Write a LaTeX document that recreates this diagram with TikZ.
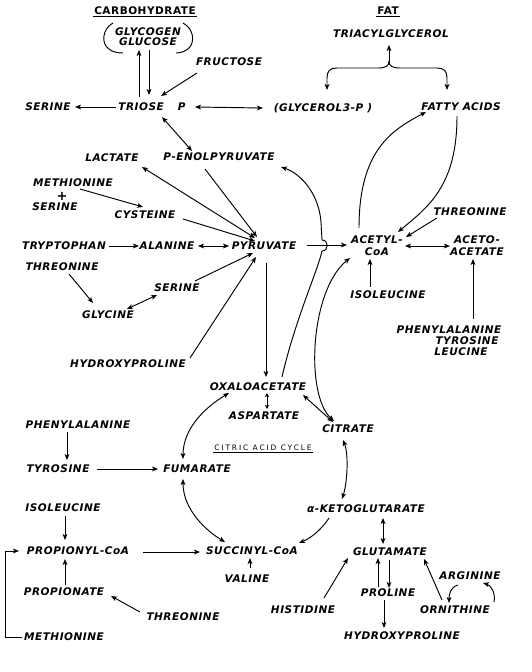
\documentclass[tikz,border=0pt]{standalone}
\usepackage{fontspec}
\setmainfont{DejaVu Sans}
\newfontfamily\labfont[LetterSpace=5]{DejaVu Sans}
\newfontfamily\cacfont[LetterSpace=25]{DejaVu Sans}
\usetikzlibrary{arrows.meta,calc}
\tikzset{
  lab/.style={font=\labfont\bfseries\itshape\fontsize{10.5}{12}\selectfont, inner sep=1pt, align=center},
  head/.style={font=\labfont\bfseries\fontsize{10.5}{12}\selectfont, inner sep=1pt},
  arr/.style={-{Stealth[length=6pt,width=4.8pt,inset=1.6pt]}, line width=0.95pt},
  darr/.style={{Stealth[length=6pt,width=4.8pt,inset=1.6pt]}-{Stealth[length=6pt,width=4.8pt,inset=1.6pt]}, line width=0.95pt},
  plain/.style={line width=0.95pt},
}
\begin{document}
\begin{tikzpicture}[x=1pt,y=-1pt]
\fill[white] (0,0) rectangle (532,672);
\useasboundingbox (0,0) rectangle (532,672);

% ---------- nodes ----------
\node[head] (carb) at (145,11) {CARBOHYDRATE};
\node[head] (fat) at (388,11) {FAT};
\node[lab] (glyc) at (148,37) {GLYCOGEN\\[-2pt]GLUCOSE};
\node[lab] (fruc) at (229,62) {FRUCTOSE};
\node[lab] (tri) at (152,107) {TRIOSE\hspace{14pt}P};
\node[lab] (ser1) at (48,107) {SERINE};
\node[lab] (g3p) at (323,108) {(GLYCEROL3-P )};
\node[lab] (tag) at (391,34) {TRIACYLGLYCEROL};
\node[lab] (fa) at (461,107) {FATTY ACIDS};
\node[lab] (lac) at (112,158) {LACTATE};
\node[lab] (pep) at (219,157) {P-ENOLPYRUVATE};
\node[lab] (met1) at (73,183) {METHIONINE};
\node[lab,font=\labfont\bfseries\fontsize{13}{13}\selectfont] (plus) at (62,196) {+};
\node[lab] (ser2) at (55,207) {SERINE};
\node[lab] (cys) at (145,215) {CYSTEINE};
\node[lab] (trp) at (64,246) {TRYPTOPHAN};
\node[lab] (ala) at (167,246) {ALANINE};
\node[lab] (pyr) at (264,246) {PYRUVATE};
\node[lab] (acoa) at (377,246) {ACETYL-\\CoA};
\node[lab] (aca) at (477,246) {ACETO-\\ACETATE};
\node[lab] (thr1) at (470,212) {THREONINE};
\node[lab] (thr2) at (62,267) {THREONINE};
\node[lab] (gly) at (108,315) {GLYCINE};
\node[lab] (ser3) at (177,288) {SERINE};
\node[lab] (hyp1) at (128,364) {HYDROXYPROLINE};
\node[lab] (ile1) at (388,295) {ISOLEUCINE};
\node[lab] (phe2) at (449,330) {PHENYLALANINE};
\node[lab] (tyr2) at (467,341) {TYROSINE};
\node[lab] (leu) at (461,352) {LEUCINE};
\node[lab] (oaa) at (258,387) {OXALOACETATE};
\node[lab] (asp) at (264,416) {ASPARTATE};
\node[lab] (cit) at (348,429) {CITRATE};
\node[font=\cacfont\fontsize{7.5}{8}\selectfont, inner sep=1pt] (cac) at (263,448) {CITRIC ACID CYCLE};
\node[lab] (phe1) at (78,425) {PHENYLALANINE};
\node[lab] (tyr1) at (58,469) {TYROSINE};
\node[lab] (fum) at (197,469) {FUMARATE};
\node[lab] (akg) at (366,509) {α-KETOGLUTARATE};
\node[lab] (ile2) at (63,508) {ISOLEUCINE};
\node[lab] (prop) at (78,551) {PROPIONYL-CoA};
\node[lab] (succ) at (252,551) {SUCCINYL-CoA};
\node[lab] (glu) at (390,552) {GLUTAMATE};
\node[lab] (val) at (247,579) {VALINE};
\node[lab] (pro) at (64,592) {PROPIONATE};
\node[lab] (thr3) at (183,617) {THREONINE};
\node[lab] (met2) at (64,637) {METHIONINE};
\node[lab] (his) at (303,610) {HISTIDINE};
\node[lab] (prl) at (388,593) {PROLINE};
\node[lab] (hyp2) at (402,636) {HYDROXYPROLINE};
\node[lab] (orn) at (455,610) {ORNITHINE};
\node[lab] (arg) at (470,576) {ARGININE};

% underlines
\draw[line width=0.7pt] (carb.south west) -- (carb.south east);
\draw[line width=0.7pt] (fat.south west) -- (fat.south east);
\draw[line width=0.5pt] ($(cac.south west)+(0,0.5)$) -- ($(cac.south east)+(0,0.5)$);

% brackets round glycogen / glucose
\draw[plain] (113,23) .. controls (102,29) and (101,44) .. (109,49) .. controls (112,52) and (118,53) .. (123,53);
\draw[plain] (183,23) .. controls (194,29) and (195,42) .. (189,48) .. controls (186,51) and (181,53) .. (176,53);

% ---------- connectors ----------
\draw[arr] ($(tri)+(-13,-10)$) -- ($(glyc)+(-9,13)$);
\draw[arr] ($(glyc)+(1,13)$) -- ($(tri)+(-3,-12)$);
\draw[arr] ($(fruc)+(-32,11)$) -- ($(tri)+(9,-11)$);
\draw[arr] ($(tri)+(-36,0)$) -- ($(ser1)+(27,0)$);
\draw[darr] ($(tri)+(43,0)$) -- ($(g3p)+(-60,0)$);
\draw[darr] ($(tri)+(10,10)$) -- ($(pep)+(-27,-6)$);

% triacylglycerol brace
\coordinate (bj) at (389,61);
\draw[arr] (bj) -- ($(tag)+(-2,11)$);
\draw[arr] (bj) .. controls (389,66) and (386,68) .. (378,68) -- (337,68) .. controls (330,68) and (327,71) .. (327,78) -- ($(g3p)+(4,-18)$);
\draw[arr] (bj) .. controls (389,66) and (392,68) .. (400,68) -- (437,68) .. controls (444,68) and (447,71) .. (447,78) -- ($(fa)+(-14,-17)$);

% fatty acids <-> acetyl-CoA
\draw[arr] ($(acoa)+(-18,-18)$) .. controls (359,150) and (392,130) .. ($(fa)+(-35,5)$);
\draw[arr] ($(fa)+(-4,9)$) .. controls (457,186) and (428,207) .. ($(acoa)+(21,-14)$);

\draw[arr] ($(thr1)+(-33,6)$) -- ($(acoa)+(29,-9)$);
\draw[arr] ($(pyr)+(43,-1)$) -- ($(acoa)+(-30,-1)$);
\draw[darr] ($(acoa)+(28,0)$) -- ($(aca)+(-27,0)$);
\draw[arr] ($(phe2)+(24,-11)$) -- ($(aca)+(-4,13)$);
\draw[arr] ($(ile1)+(-18,-8)$) -- ($(acoa)+(-7,13)$);

% oxaloacetate -> P-enolpyruvate (with hop over pyruvate arrow)
\draw[arr] ($(oaa)+(24,-10)$) .. controls (295,320) and (318,270) .. (322,251)
   .. controls (329,251) and (329,240) .. (322,240) -- (321,222)
   .. controls (319,195) and (302,174) .. ($(pep)+(62,10)$);

% acetyl-CoA <-> citrate
\draw[darr] ($(acoa)+(-27,12)$) .. controls (310,290) and (305,395) .. ($(cit)+(-14,-8)$);

% left-side inputs to pyruvate
\draw[darr] ($(lac)+(30,9)$) -- ($(pyr)+(-9,-8)$);
\draw[arr] ($(pep)+(-14,12)$) -- ($(pyr)+(-7,-9)$);
\draw[arr] ($(met1)+(7,6)$) -- ($(cys)+(-2,-8)$);
\draw[arr] ($(cys)+(38,4)$) -- ($(pyr)+(-9,-5)$);
\draw[arr] ($(trp)+(45,0)$) -- ($(ala)+(-28,0)$);
\draw[darr] ($(ala)+(31,0)$) -- ($(pyr)+(-35,0)$);
\draw[arr] ($(thr2)+(7,7)$) -- ($(gly)+(-15,-12)$);
\draw[darr] ($(gly)+(19,-6)$) -- ($(ser3)+(-20,7)$);
\draw[arr] ($(ser3)+(18,-7)$) -- ($(pyr)+(-11,7)$);
\draw[arr] ($(hyp1)+(62,-6)$) -- ($(pyr)+(-8,11)$);

% citric acid cycle
\draw[arr] ($(pyr)+(2,17)$) -- ($(oaa)+(8,-10)$);
\draw[line width=0.95pt,{Stealth[length=4pt,width=4pt,inset=1pt]}-{Stealth[length=4pt,width=4pt,inset=1pt]}] ($(oaa)+(9,6)$) -- ($(asp)+(3,-7)$);
\draw[darr] ($(oaa)+(45,8)$) -- ($(cit)+(-15,-7)$);
\draw[darr] ($(oaa)+(-29,6)$) .. controls (204,408) and (183,429) .. ($(fum)+(-14,-10)$);
\draw[darr] ($(fum)+(-14,10)$) .. controls (183,509) and (205,530) .. ($(succ)+(-27,-9)$);
\draw[darr] ($(cit)+(-5,11)$) .. controls (349,455) and (347,484) .. ($(akg)+(-24,-10)$);
\draw[arr] ($(akg)+(-37,9)$) .. controls (321,530) and (311,538) .. ($(succ)+(47,-8)$);
\draw[darr] ($(akg)+(17,9)$) -- ($(glu)+(-7,-8)$);

% left lower block
\draw[arr] ($(tyr1)+(39,0)$) -- ($(fum)+(-39,0)$);
\draw[arr] ($(phe1)+(-11,7)$) -- ($(tyr1)+(9,-9)$);
\draw[arr] ($(prop)+(65,1)$) -- ($(succ)+(-52,1)$);
\draw[arr] ($(ile2)+(2,8)$) -- ($(prop)+(-13,-11)$);
\draw[arr] ($(pro)+(1,-7)$) -- ($(prop)+(-13,8)$);
\draw[arr] ($(thr3)+(-43,-5)$) -- ($(pro)+(47,4)$);
\draw[arr] ($(met2)+(-42,0)$) -- ++(-17,0) |- ($(prop)+(-59,0)$);
\draw[arr] ($(val)+(3,-11)$) -- ($(succ)+(-2,7)$);

% glutamate block
\draw[arr] ($(his)+(21,-12)$) -- ($(glu)+(-42,6)$);
\draw[arr] ($(glu)+(-1,8)$) -- ($(prl)+(1,-5)$);
\draw[arr] ($(prl)+(-10,-6)$) -- ($(glu)+(-12,6)$);
\draw[arr] ($(prl)+(-4,7)$) -- ($(hyp2)+(-18,-8)$);
\draw[arr] ($(orn)+(-13,-10)$) -- ($(glu)+(34,7)$);
\draw[arr] ($(arg)+(-12,9)$) .. controls (450,587) and (449,595) .. ($(orn)+(-6,-7)$);
\draw[arr] ($(orn)+(39,-8)$) .. controls (496,592) and (490,585) .. ($(arg)+(13,7)$);
\end{tikzpicture}
\end{document}
